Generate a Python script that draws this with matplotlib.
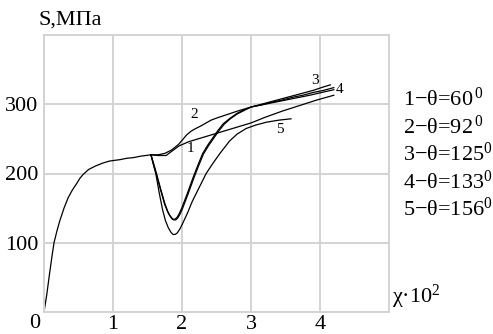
import matplotlib
matplotlib.use("Agg")
import matplotlib.pyplot as plt

plt.rcParams['font.family'] = ['Liberation Serif', 'DejaVu Serif']
plt.rcParams['mathtext.fontset'] = 'custom'
plt.rcParams['mathtext.rm'] = 'Liberation Serif'
plt.rcParams['mathtext.it'] = 'Liberation Serif:italic'

# common loading branch (before the curves split)
x_common = [0, 0.04, 0.08, 0.115, 0.145, 0.19, 0.23, 0.29, 0.35, 0.41, 0.47, 0.52, 0.57,
            0.65, 0.75, 0.85, 0.95, 1.1, 1.2, 1.3, 1.4, 1.55]
y_common = [0, 25, 55, 80, 100, 118, 132, 150, 165, 176, 185, 193, 199,
            206, 211, 215, 218, 220, 222, 223, 225, 227]

# curve 1, theta = 60
x1 = [1.55, 1.65, 1.77, 1.85, 1.96, 2.1, 2.3, 2.5, 2.7, 3.0, 3.2, 3.45, 3.7, 3.95, 4.2]
y1 = [227, 226, 226, 232, 240, 246, 252, 258, 264, 273, 281, 290, 298, 306, 313]

# curve 2, theta = 92
x2 = [1.55, 1.65, 1.75, 1.85, 1.95, 2.01, 2.07, 2.13, 2.2, 2.28, 2.35, 2.42, 2.5, 2.65,
      2.8, 2.9, 3.0, 3.25, 3.5, 3.85, 4.2]
y2 = [227, 227, 229, 234, 242, 249, 256, 261, 265, 269, 273, 277, 280, 285,
      290, 293, 296, 301, 306, 313, 321]

# curve 3, theta = 125
x3 = [1.55, 1.59, 1.63, 1.69, 1.75, 1.79, 1.82, 1.85, 1.87, 1.9, 1.93, 1.96, 2.0, 2.08,
      2.16, 2.23, 2.3, 2.38, 2.45, 2.52, 2.6, 2.7, 2.8, 2.9, 3.0, 3.15, 3.3, 3.45,
      3.6, 3.75, 3.9, 4.05, 4.15]
y3 = [227, 214, 200, 178, 157, 146, 140, 136, 134, 134, 137, 142, 151, 172,
      194, 212, 229, 242, 252, 262, 272, 280, 287, 292, 296, 300, 304, 308,
      312, 316, 320, 325, 328]

# curve 4, theta = 133
x4 = [1.55, 1.59, 1.63, 1.69, 1.75, 1.8, 1.83, 1.86, 1.88, 1.91, 1.94, 1.97, 2.01, 2.09,
      2.17, 2.24, 2.31, 2.39, 2.46, 2.53, 2.61, 2.7, 2.8, 2.9, 3.0, 3.15, 3.3, 3.45,
      3.6, 3.75, 3.9, 4.05, 4.2]
y4 = [227, 212, 198, 176, 155, 143, 138, 134, 133, 133, 136, 141, 150, 171,
      193, 211, 228, 241, 251, 261, 271, 279, 286, 291, 296, 299, 303, 306,
      310, 313, 317, 320, 324]

# curve 5, theta = 156
x5 = [1.55, 1.58, 1.62, 1.67, 1.72, 1.76, 1.8, 1.84, 1.87, 1.9, 1.93, 1.97, 2.01, 2.08,
      2.15, 2.25, 2.35, 2.45, 2.55, 2.62, 2.69, 2.8, 2.93, 3.07, 3.22, 3.4, 3.58]
y5 = [227, 215, 200, 172, 147, 132, 122, 115, 112, 112, 114, 120, 128, 143,
      160, 180, 200, 215, 229, 238, 247, 257, 265, 270, 274, 277, 279]

curve_labels = ['1', '2', '3', '4', '5']
label_x = [2.12, 2.17, 3.93, 4.28, 3.42]
label_y = [236, 285, 335, 321, 264]

legend_rows = ['1−θ=60$^{\\,0}$', '2−θ=92$^{\\,0}$', '3−θ=125$^0$', '4−θ=133$^0$', '5−θ=156$^0$']

fig = plt.figure(figsize=(4.93, 3.34), dpi=100)
ax = fig.add_axes([44 / 493, 22 / 334, 345 / 493, 277 / 334])

ax.plot(x_common, y_common, color='black', lw=0.9)
for xs, ys in [(x1, y1), (x2, y2), (x3, y3), (x4, y4), (x5, y5)]:
    ax.plot(xs, ys, color='black', lw=0.9)

for t, lx, ly in zip(curve_labels, label_x, label_y):
    ax.text(lx, ly, t, fontsize=11, ha='center', va='center')

ax.set_xlim(0, 5)
ax.set_ylim(0, 400)
ax.set_xticks([0, 1, 2, 3, 4, 5])
ax.set_xticklabels(['', '1', '2', '3', '4', ''])
ax.set_yticks([0, 100, 200, 300, 400])
ax.set_yticklabels(['', '100', '200', '300', ''])
ax.tick_params(length=0, labelsize=16)
ax.tick_params(axis='x', pad=2)
ax.tick_params(axis='y', pad=4)
ax.grid(True, color='#d3d3d3', lw=1.4)
for s in ax.spines.values():
    s.set_color('#d3d3d3')
    s.set_linewidth(1.4)

fig.text(35 / 493, 1 - 323 / 334, '0', fontsize=16, ha='center', va='center')
fig.text(38 / 493, 1 - 20 / 334, 'S,МПа', fontsize=16, ha='left', va='center')
fig.text(392 / 493, 1 - 297 / 334, 'χ·10$^2$', fontsize=16, ha='left', va='center')

rows_y = [99, 127, 154, 182, 209]
for t, ry in zip(legend_rows, rows_y):
    fig.text(403 / 493, 1 - ry / 334, t, fontsize=16, ha='left', va='center')

fig.savefig('out.png', dpi=100)
